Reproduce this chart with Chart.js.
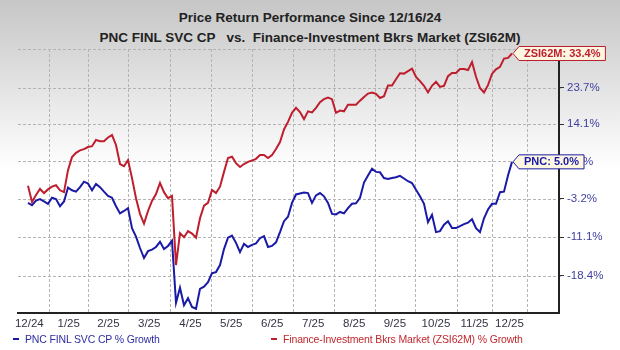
<!DOCTYPE html>
<html>
<head>
<meta charset="utf-8">
<script src="https://cdn.jsdelivr.net/npm/chart.js@4.4.1/dist/chart.umd.min.js"></script>
<style>
  body { margin: 0; }
  #wrap { position: relative; width: 620px; height: 350px; overflow: hidden;
          background: linear-gradient(#c6c6c6 0px, #ffffff 170px);
          font-family: Arial, "Liberation Sans", sans-serif; }
  #myChart { position: absolute; left: 0; top: 0; }
  .title { position: absolute; left: 0; width: 620px; text-align: center; font-weight: bold;
           font-size: 13.5px; line-height: 16px; color: #222; white-space: pre; }
  .leg { position: absolute; top: 332px; font-size: 10.5px; letter-spacing: -0.15px; line-height: 14px; white-space: nowrap; }
  .leg i { display: inline-block; width: 6px; height: 2px; vertical-align: middle; margin: 0 6px 2px 0; }
</style>
</head>
<body>
<div id="wrap">
  <div class="title" style="top:10px">Price Return Performance Since 12/16/24</div>
  <div class="title" style="top:30px">PNC FINL SVC CP   vs.  Finance-Investment Bkrs Market (ZSI62M)</div>
  <canvas id="myChart" width="620" height="350"></canvas>
  <div class="leg" style="left:13px;color:#2e2ea0"><i style="background:#1a1aa6"></i>PNC FINL SVC CP % Growth</div>
  <div class="leg" style="left:271px;color:#c0282d"><i style="background:#be1e2d"></i>Finance-Investment Bkrs Market (ZSI62M) % Growth</div>
</div>
<script>
// % growth since 12/16/24, one reading every few trading days
const pncGrowth = [-4.1,-4.6,-3.6,-3.3,-3.8,-4.3,-3.0,-3.3,-4.8,-3.8,
  -0.8,-1.4,-1.7,-0.7,0.5,0.1,-1.4,0.0,-0.7,-1.7,
  -2.6,-3.0,-4.8,-6.3,-5.8,-5.2,-9.3,-11.0,-13.2,-15.1,
  -13.8,-13.5,-13.0,-12.0,-13.4,-12.8,-11.8,-23.1,-20.5,-23.5,
  -22.3,-23.8,-24.1,-20.7,-20.3,-19.5,-17.9,-17.7,-16.4,-13.4,
  -11.2,-10.8,-12.2,-14.0,-12.4,-13.0,-12.6,-12.3,-11.3,-10.9,
  -13.0,-12.8,-12.1,-10.1,-7.9,-7.0,-4.1,-2.3,-2.1,-1.9,
  -2.0,-4.1,-2.5,-2.0,-2.7,-4.1,-6.4,-6.5,-6.0,-6.3,
  -5.2,-4.3,-4.2,-3.0,0.3,1.9,3.4,2.7,2.6,1.3,
  1.1,1.3,1.5,1.8,1.2,0.6,0.2,-1.3,-2.7,-4.3,
  -8.1,-6.6,-10.1,-9.9,-8.6,-7.9,-9.3,-9.3,-8.9,-8.5,
  -8.2,-7.5,-9.3,-10.1,-7.3,-5.5,-4.3,-4.3,-1.8,-1.7,1.9,5.0];

const zsiGrowth = [-0.4,-3.9,-2.4,-1.1,-2.0,-1.2,-0.6,-0.3,-1.4,-1.8,
  3.1,6.1,7.1,7.7,8.0,8.5,8.7,10.2,9.9,9.9,
  10.8,11.4,9.0,4.5,4.0,5.4,1.3,-3.1,-6.4,-8.4,
  -5.8,-3.7,-2.2,0.2,-1.8,-3.1,-2.6,-16.4,-10.3,-11.1,
  -9.9,-10.4,-11.2,-7.3,-4.7,-4.1,-1.3,-2.0,-0.6,2.7,
  5.9,6.2,4.7,3.8,4.5,5.0,5.3,5.7,6.6,6.6,
  5.9,6.6,8.0,9.7,12.8,14.7,17.0,18.3,17.2,15.4,
  17.4,17.1,18.3,19.8,20.6,21.0,20.6,17.0,17.6,17.4,
  19.1,19.1,19.1,20.2,21.2,22.1,22.4,22.0,20.9,21.4,
  24.3,24.3,26.0,27.7,27.6,28.3,29.0,26.7,25.5,24.2,
  22.4,24.2,25.3,23.9,24.2,26.9,27.8,27.8,28.9,28.9,
  28.6,30.9,26.7,23.6,22.4,24.4,27.5,28.8,29.5,31.9,32.1,33.4];

const monthLabels = ["12/24","1/25","2/25","3/25","4/25","5/25","6/25","7/25","8/25","9/25","10/25","11/25","12/25"];
// where each month begins, in reading steps
const monthStarts = [5.25,15.1,25.1,35.5,45.75,55.9,66.2,76.4,86.7,96.75,107.25,116,124.75];
const yTickValues = [-18.4,-11.1,-3.2,5.1,14.1,23.7];

const yMin = 75.19, yMax = 134.73;   // price index, 100 = 12/16/24

let labelPos = monthStarts.map((m, k) => k == 0 ? m - (monthStarts[1] - m) / 2 : (monthStarts[k-1] + m) / 2);

// dashed grid from the scales' tick positions, slid in behind what is already drawn
const gridPlugin = {
  id: "dashGrid",
  afterDraw(chart) {
    const ctx = chart.ctx, a = chart.chartArea;
    const xs = chart.scales.x, ys = chart.scales.y;
    ctx.save();
    ctx.globalCompositeOperation = "destination-over";
    ctx.fillStyle = "#b4b4b4";
    xs.ticks.forEach(t => {
      if (!t.grid) return;
      const x = Math.round(xs.getPixelForValue(t.value));
      for (let y = a.top; y < a.bottom; y += 5) ctx.fillRect(x, y, 1, 3);
    });
    ys.ticks.forEach(t => {
      const y = Math.round(ys.getPixelForValue(t.value));
      for (let x = a.left; x < a.right; x += 5) ctx.fillRect(x, y, 3, 1);
    });
    ctx.restore();
  }
};

const tagPlugin = {
  id: "endTags",
  afterDatasetsDraw(chart) {
    const ctx = chart.ctx;
    chart.data.datasets.forEach((ds, di) => {
      const meta = chart.getDatasetMeta(di);
      const pt = meta.data[meta.data.length - 1];
      const last = ds.data[ds.data.length - 1].y - 100;
      const text = ds.tagName + ": " + last.toFixed(1) + "%";
      ctx.save();
      ctx.font = 'bold 11px Arial, "Liberation Sans", sans-serif';
      const w = ctx.measureText(text).width + 10;
      const x0 = pt.x + 1, y0 = pt.y, h = 14;
      ctx.beginPath();
      ctx.moveTo(x0, y0);
      ctx.lineTo(x0 + 6, y0 - h / 2);
      ctx.lineTo(x0 + 6 + w, y0 - h / 2);
      ctx.lineTo(x0 + 6 + w, y0 + h / 2);
      ctx.lineTo(x0 + 6, y0 + h / 2);
      ctx.closePath();
      ctx.fillStyle = "#fdf7e1";
      ctx.fill();
      ctx.strokeStyle = ds.borderColor;
      ctx.lineWidth = 1;
      ctx.stroke();
      ctx.fillStyle = ds.borderColor;
      ctx.textBaseline = "middle";
      ctx.fillText(text, x0 + 11, y0 + 0.5);
      ctx.restore();
    });
  }
};

new Chart("myChart", {
  type: "line",
  data: {
    datasets: [{
      tagName: "ZSI62M",
      data: zsiGrowth.map((v, i) => ({x: i, y: 100 + v})),
      borderColor: "#be1e2d",
      borderWidth: 2,
      pointRadius: 0,
      fill: false
    }, {
      tagName: "PNC",
      data: pncGrowth.map((v, i) => ({x: i, y: 100 + v})),
      borderColor: "#1a1aa6",
      borderWidth: 2,
      pointRadius: 0,
      fill: false
    }]
  },
  options: {
    responsive: false,
    animation: false,
    devicePixelRatio: 1,
    layout: {padding: {left: 18, top: 49, right: 0, bottom: 0}},
    plugins: {legend: {display: false}, tooltip: {enabled: false}},
    scales: {
      x: {
        type: "linear",
        min: -2.5,
        max: 132.75,
        afterFit: (scale) => { scale.height = 37; },
        afterBuildTicks: (scale) => {
          let t = monthStarts.map(v => ({value: v, grid: true}));
          labelPos.forEach((v, k) => t.push({value: v, text: monthLabels[k]}));
          t.sort((a, b) => a.value - b.value);
          scale.ticks = t;
        },
        grid: {drawTicks: false, drawOnChartArea: false},
        border: {display: true, color: "#222", width: 2},
        ticks: {
          autoSkip: false,
          maxRotation: 0,
          padding: 4,
          color: "#333344",
          font: {family: 'Arial, "Liberation Sans", sans-serif', size: 11.5},
          callback: (value, index, ticks) => ticks[index].text || ""
        }
      },
      y: {
        type: "logarithmic",
        position: "right",
        min: yMin,
        max: yMax,
        afterFit: (scale) => { scale.width = 61; },
        afterBuildTicks: (scale) => {
          let t = yTickValues.map(v => ({value: 100 + v, text: v.toFixed(1) + "%"}));
          t.push({value: yMax, text: ""});
          scale.ticks = t;
        },
        grid: {drawOnChartArea: false, tickColor: "#333", tickLength: 5},
        border: {display: true, color: "#222", width: 2},
        ticks: {
          autoSkip: false,
          padding: 3,
          color: "#3f3f9f",
          font: {family: 'Arial, "Liberation Sans", sans-serif', size: 11.5},
          callback: (value, index, ticks) => ticks[index].text
        }
      }
    }
  },
  plugins: [gridPlugin, tagPlugin]
});
</script>
</body>
</html>
